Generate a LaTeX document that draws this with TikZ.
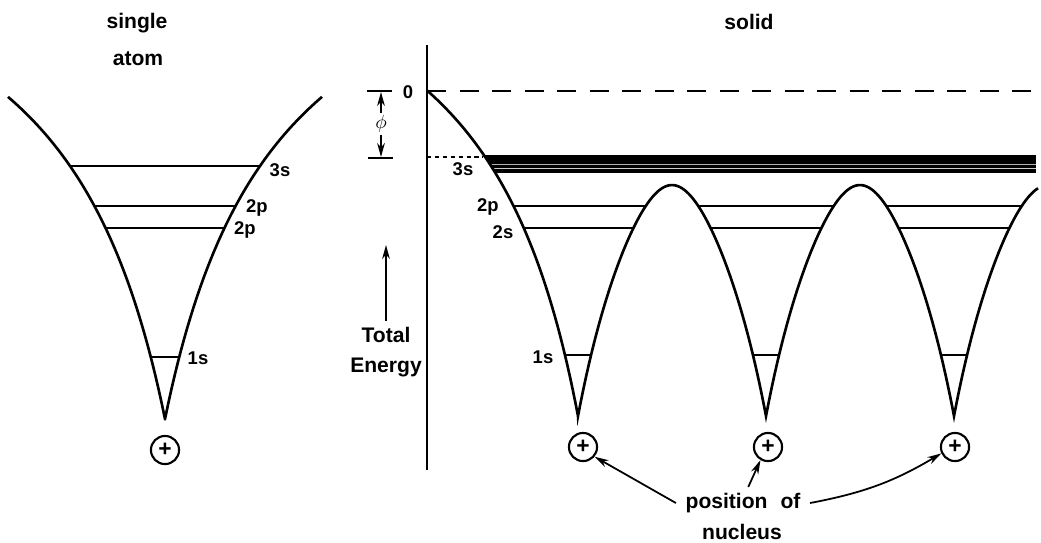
\documentclass[tikz,border=0pt]{standalone}
\usepackage{fontspec}
\setmainfont{Liberation Sans}
\usetikzlibrary{arrows.meta}

\begin{document}
\begin{tikzpicture}[x=0.02cm, y=-0.02cm,
    curve/.style={line width=1.5pt},
    level/.style={line width=1pt},
    lbl/.style={font=\fontsize{10.5}{12}\selectfont\bfseries, inner sep=1pt},
    title/.style={font=\fontsize{12}{14}\selectfont\bfseries, align=center},
    nuc/.style={draw, circle, line width=1.2pt, minimum size=16pt, inner sep=0pt,
        font=\fontsize{13}{13}\selectfont\bfseries},
    ptr/.style={line width=1pt, -{Stealth[length=8pt, width=4.4pt]}},
    declare function={sdep(\w)=554*(\w/(\w+113)); ldep(\w)=552*(\w/(\w+105));
        smin(\a,\b)=min(\a,\b)-43*ln(1+exp(-abs(\a-\b)/43));}]
    \useasboundingbox (0,0) rectangle (1041,542);

    % single atom
    \def\atomcurve{plot[domain=157:0, samples=50] ({165-\x}, {419-sdep(\x)})
        -- plot[domain=0:157, samples=50] ({165+\x}, {419-sdep(\x)})}
    \draw[curve] \atomcurve;
    \begin{scope}
        \clip \atomcurve -- (322,0) -- (8,0) -- cycle;
        \foreach \y in {166,206,228,357}
            \draw[level] (0,\y) -- (340,\y);
    \end{scope}
    \node[title] (single) at (137,23) {single};
    \node[title] (atom) at (138,59) {atom};
    \node[lbl] (a3s) at (280,170) {3s};
    \node[lbl] (a2p) at (257,208) {2p};
    \node[lbl] (a2pb) at (245,230) {2p};
    \node[lbl] (a1s) at (198,358) {1s};
    \node[nuc] (n0) at (165,450) {+};

    % solid
    \def\solidcurve{plot[domain=427:578, samples=60] (\x, {416-ldep(578-\x)})
        -- plot[domain=578:766, samples=120] (\x, {416-smin(ldep(\x-578),ldep(766-\x))})
        -- plot[domain=766:954, samples=120] (\x, {416-smin(ldep(\x-766),ldep(954-\x))})
        -- plot[domain=954:1038, samples=60] (\x, {416-smin(ldep(\x-954),ldep(1142-\x))})}
    \begin{scope}
        \clip \solidcurve -- (1038,40) -- (427,40) -- cycle;
        \fill (427,155) rectangle (1036,173);
        \draw[gray!60, line width=0.3pt] (427,164.5) -- (1036,164.5);
        \draw[gray!40, line width=0.4pt] (427,168) -- (1036,168);
        \foreach \y in {206,228,355}
            \draw[level] (427,\y) -- (1038,\y);
    \end{scope}
    \draw[curve] \solidcurve;
    \draw[line width=1.2pt] (427,45) -- (427,470);
    \draw[line width=1.1pt, dash pattern=on 11pt off 7.5pt] (427,91) -- (1035,91);
    \draw[line width=0.8pt, dash pattern=on 2.5pt off 2pt] (427,157) -- (483,157);
    \node[title] (solid) at (749,22) {solid};
    \node[lbl] (zero) at (408,92) {0};
    \node[lbl] (s3s) at (463,169) {3s};
    \node[lbl] (s2p) at (488,207) {2p};
    \node[lbl] (s2s) at (503,232) {2s};
    \node[lbl] (s1s) at (543,357) {1s};

    % work function
    \draw[line width=1pt] (367,91) -- (392,91);
    \draw[line width=1pt] (368,158) -- (393,158);
    \node[lbl] (phi) at (381,124) {$\phi$};
    \coordinate (phtop) at (381,92);
    \coordinate (phbot) at (381,157);
    \draw[ptr] (phi) -- (phtop);
    \draw[ptr] (phi) -- (phbot);

    % energy axis label
    \node[title] (energy) at (386,352) {Total\\[3pt]Energy};
    \coordinate (etop) at (386,245);
    \draw[ptr] (energy) -- (etop);

    % nuclei
    \node[nuc] (n1) at (583,447) {+};
    \node[nuc] (n2) at (768,447) {+};
    \node[nuc] (n3) at (955,447) {+};
    \node[title] (pos) at (743,503) {position\hspace{4pt} of};
    \node[title] (nucl) at (742,532) {nucleus};
    \draw[ptr] ([xshift=-2pt]pos.west) -- (n1.-40);
    \draw[ptr] ([xshift=3pt]pos.north) -- (n2.240);
    \draw[ptr] ([xshift=2pt]pos.east) to[bend right=10] (n3.205);
\end{tikzpicture}
\end{document}
